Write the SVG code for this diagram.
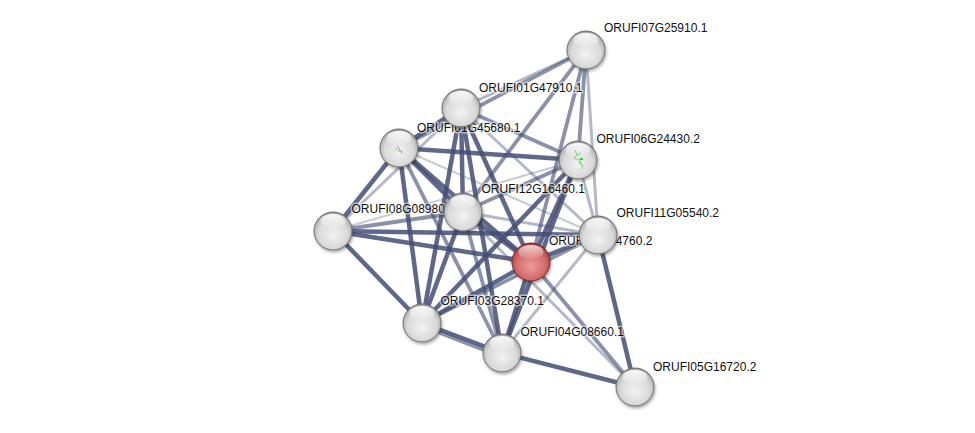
<svg xmlns="http://www.w3.org/2000/svg" width="975" height="433" viewBox="0 0 975 433">
<style>
.e{fill:none;stroke:#434e74;stroke-linecap:butt}
.s{stroke-width:4.5;stroke-opacity:0.85}
.m{stroke-width:3.8;stroke-opacity:0.62}
.l{stroke-width:3;stroke-opacity:0.4}
.t{stroke-width:2;stroke-opacity:0.3}
.lbl{font-family:"Liberation Sans",Arial,sans-serif;font-size:12px;fill:#111;stroke:#fff;stroke-opacity:0.55;stroke-width:3;paint-order:stroke;stroke-linejoin:round}
.rim{stroke:#6f6f6f;stroke-width:1}
.ic{fill:none;stroke:#3fcf3f;stroke-width:0.7}
</style>
<defs>
<radialGradient id="gg" cx="50%" cy="55%" r="55%" fx="50%" fy="62%">
<stop offset="0" stop-color="#f2f2f2"/>
<stop offset="0.7" stop-color="#d9d9d9"/>
<stop offset="0.9" stop-color="#b8b8b8"/>
<stop offset="1" stop-color="#8c8c8c"/>
</radialGradient>
<radialGradient id="gr" cx="50%" cy="55%" r="55%" fx="50%" fy="62%">
<stop offset="0" stop-color="#ec9a9a"/>
<stop offset="0.7" stop-color="#d46a6a"/>
<stop offset="0.9" stop-color="#b54c4c"/>
<stop offset="1" stop-color="#8a3333"/>
</radialGradient>
<linearGradient id="hl" x1="0" y1="0" x2="0" y2="1">
<stop offset="0" stop-color="#fff" stop-opacity="0.95"/>
<stop offset="1" stop-color="#fff" stop-opacity="0.05"/>
</linearGradient>
<filter id="sh" x="-40%" y="-40%" width="180%" height="180%">
<feGaussianBlur in="SourceAlpha" stdDeviation="1.6"/>
<feOffset dx="1" dy="2" result="b"/>
<feComponentTransfer><feFuncA type="linear" slope="0.35"/></feComponentTransfer>
<feMerge><feMergeNode/><feMergeNode in="SourceGraphic"/></feMerge>
</filter>
<g id="ball">
<circle r="19" fill="url(#gg)" class="rim"/>
<ellipse cx="0" cy="-10" rx="12.5" ry="7" fill="url(#hl)"/>
</g>
<g id="rball">
<circle r="19" fill="url(#gr)" stroke="#7a2c2c" stroke-width="1"/>
<ellipse cx="0" cy="-10" rx="12.5" ry="7" fill="url(#hl)" opacity="0.8"/>
</g>
</defs>
<rect width="975" height="433" fill="#fff"/>
<g id="edges">
<line class="e l" x1="586" y1="50" x2="461" y2="108"/>
<line class="e m" x1="586" y1="50" x2="399" y2="148"/>
<line class="e m" x1="586" y1="50" x2="463" y2="212"/>
<line class="e m" x1="586" y1="50" x2="531" y2="262"/>
<line class="e m" x1="586" y1="50" x2="578" y2="160"/>
<line class="e l" x1="586" y1="50" x2="598" y2="235"/>
<line class="e s" x1="461" y1="108" x2="399" y2="148"/>
<line class="e m" x1="461" y1="108" x2="578" y2="160"/>
<line class="e s" x1="461" y1="108" x2="463" y2="212"/>
<line class="e s" x1="461" y1="108" x2="531" y2="262"/>
<line class="e s" x1="461" y1="108" x2="422" y2="323"/>
<line class="e s" x1="461" y1="108" x2="502" y2="353"/>
<line class="e l" x1="461" y1="108" x2="598" y2="235"/>
<line class="e l" x1="461" y1="108" x2="333" y2="231"/>
<line class="e s" x1="399" y1="148" x2="578" y2="160"/>
<line class="e s" x1="399" y1="148" x2="463" y2="212"/>
<line class="e s" x1="399" y1="148" x2="333" y2="231"/>
<line class="e s" x1="399" y1="148" x2="531" y2="262"/>
<line class="e s" x1="399" y1="148" x2="422" y2="323"/>
<line class="e m" x1="399" y1="148" x2="502" y2="353"/>
<line class="e t" x1="399" y1="148" x2="598" y2="235"/>
<line class="e m" x1="578" y1="160" x2="463" y2="212"/>
<line class="e s" x1="578" y1="160" x2="531" y2="262"/>
<line class="e s" x1="578" y1="160" x2="422" y2="323"/>
<line class="e s" x1="578" y1="160" x2="502" y2="353"/>
<line class="e l" x1="578" y1="160" x2="598" y2="235"/>
<line class="e t" x1="578" y1="160" x2="333" y2="231"/>
<line class="e m" x1="463" y1="212" x2="333" y2="231"/>
<line class="e s" x1="463" y1="212" x2="531" y2="262"/>
<line class="e s" x1="463" y1="212" x2="422" y2="323"/>
<line class="e m" x1="463" y1="212" x2="502" y2="353"/>
<line class="e l" x1="463" y1="212" x2="598" y2="235"/>
<line class="e l" x1="463" y1="212" x2="635" y2="387"/>
<line class="e s" x1="333" y1="231" x2="598" y2="235"/>
<line class="e s" x1="333" y1="231" x2="531" y2="262"/>
<line class="e s" x1="333" y1="231" x2="422" y2="323"/>
<line class="e s" x1="598" y1="235" x2="531" y2="262"/>
<line class="e l" x1="598" y1="235" x2="502" y2="353"/>
<line class="e s" x1="598" y1="235" x2="635" y2="387"/>
<line class="e m" x1="598" y1="235" x2="422" y2="323"/>
<line class="e s" x1="531" y1="262" x2="422" y2="323"/>
<line class="e s" x1="531" y1="262" x2="502" y2="353"/>
<line class="e m" x1="531" y1="262" x2="635" y2="387"/>
<line class="e s" x1="422" y1="323" x2="502" y2="353"/>
<line class="e m" x1="422" y1="326" x2="502" y2="357"/>
<line class="e s" x1="502" y1="353" x2="635" y2="387"/>
</g>
<g id="labels">
<text class="lbl" x="604" y="32">ORUFI07G25910.1</text>
<text class="lbl" x="479" y="91.5">ORUFI01G47910.1</text>
<text class="lbl" x="417" y="131.5">ORUFI01G45680.1</text>
<text class="lbl" x="596.5" y="143">ORUFI06G24430.2</text>
<text class="lbl" x="481.5" y="193">ORUFI12G16460.1</text>
<text class="lbl" x="351.5" y="213">ORUFI08G08980.1</text>
<text class="lbl" x="616.5" y="217">ORUFI11G05540.2</text>
<text class="lbl" x="549" y="245">ORUFI02G14760.2</text>
<text class="lbl" x="440.5" y="305">ORUFI03G28370.1</text>
<text class="lbl" x="520.5" y="336">ORUFI04G08660.1</text>
<text class="lbl" x="653" y="370.5">ORUFI05G16720.2</text>
</g>
<g id="n_ORUFI07G25910" filter="url(#sh)"><use href="#ball" x="586" y="50"/></g>
<g id="n_ORUFI01G45680" filter="url(#sh)"><use href="#ball" x="399" y="148"/>
<path class="ic" d="M397 146l3 3l-2 2l4 1M401 150l1 4M395 150l3 -2"/></g>
<g id="n_ORUFI01G47910" filter="url(#sh)"><use href="#ball" x="461" y="108"/></g>
<g id="n_ORUFI06G24430" filter="url(#sh)"><use href="#ball" x="578" y="160"/>
<path class="ic" d="M575 150l2 5l-3 3l4 2l3 -1l-2 4l3 2M577 155l4 -2M580 162l3 4l-2 3" />
<rect x="580" y="158" width="3" height="2" fill="#3fcf3f"/></g>
<g id="n_ORUFI12G16460" filter="url(#sh)"><use href="#ball" x="463" y="212"/></g>
<g id="n_ORUFI08G08980" filter="url(#sh)"><use href="#ball" x="333" y="231"/></g>
<g id="n_ORUFI11G05540" filter="url(#sh)"><use href="#ball" x="598" y="235"/></g>
<g id="n_ORUFI02G14760" filter="url(#sh)"><use href="#rball" x="531" y="262"/></g>
<g id="n_ORUFI03G28370" filter="url(#sh)"><use href="#ball" x="422" y="323"/></g>
<g id="n_ORUFI04G08660" filter="url(#sh)"><use href="#ball" x="502" y="353"/></g>
<g id="n_ORUFI05G16720" filter="url(#sh)"><use href="#ball" x="635" y="387"/></g>
</svg>
